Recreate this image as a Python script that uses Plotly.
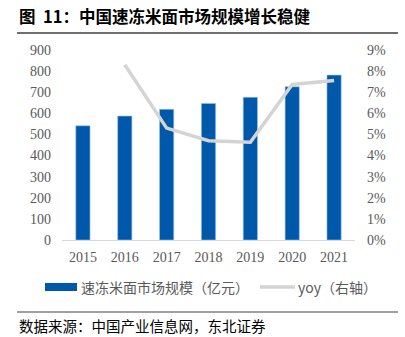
import plotly.graph_objects as go

years = ["2015", "2016", "2017", "2018", "2019", "2020", "2021"]
market = [541, 587, 619, 647, 676, 726, 781]
yoy_years = ["2016", "2017", "2018", "2019", "2020", "2021"]
yoy = [8.3, 5.3, 4.7, 4.63, 7.37, 7.55]
left_ticks = [0, 100, 200, 300, 400, 500, 600, 700, 800, 900]
right_ticks = [0, 1, 2, 3, 4, 5, 6, 7, 8, 9]

BLUE = "#0058AA"
GRAY = "#D4D4D4"
TXT = "#595959"
CJK = "Noto Sans CJK SC"
SERIF = "Liberation Serif"

fig = go.Figure()
fig.add_trace(go.Bar(x=years, y=market, name="速冻米面市场规模（亿元）",
                     marker=dict(color=BLUE, line=dict(color="#9DC3E6", width=0.6)),
                     width=0.34, showlegend=False))
fig.add_trace(go.Scatter(x=yoy_years, y=yoy, yaxis="y2", mode="lines",
                         line=dict(color=GRAY, width=3.5), name="yoy（右轴）",
                         showlegend=False))

W, H = 405, 337
ml, mr, mt, mb = 62, 50, 50, 97
pw, ph = W - ml - mr, H - mt - mb

def px(x):
    return (x - ml) / pw

def py(y):
    return (H - mb - y) / ph

fig.update_layout(
    width=W, height=H,
    margin=dict(l=ml, r=mr, t=mt, b=mb),
    paper_bgcolor="white", plot_bgcolor="white",
    bargap=0.5,
    xaxis=dict(type="category", showgrid=False, showline=True, linecolor="#D9D9D9",
               linewidth=1, ticks="", ticklabelstandoff=4,
               tickfont=dict(family=SERIF, size=14, color=TXT)),
    yaxis=dict(range=[0, 900], tickvals=left_ticks, showgrid=False, zeroline=False,
               ticks="", ticklabelstandoff=10,
               tickfont=dict(family=SERIF, size=14, color=TXT)),
    yaxis2=dict(range=[0, 9], tickvals=right_ticks, ticktext=[f"{v}%" for v in right_ticks],
                overlaying="y", side="right", showgrid=False, zeroline=False, ticks="",
                ticklabelstandoff=11,
                tickfont=dict(family=SERIF, size=14, color=TXT)),
    showlegend=False,
)

shapes = [
    dict(type="line", xref="paper", yref="paper", x0=px(17), x1=px(398), y0=py(33), y1=py(33),
         line=dict(color="#404040", width=1.3)),
    dict(type="line", xref="paper", yref="paper", x0=px(17), x1=px(398), y0=py(312), y1=py(312),
         line=dict(color="#808080", width=1.3)),
    dict(type="rect", xref="paper", yref="paper", x0=px(45), x1=px(77), y0=py(291), y1=py(283),
         fillcolor=BLUE, line=dict(width=0)),
    dict(type="line", xref="paper", yref="paper", x0=px(260), x1=px(295), y0=py(287), y1=py(287),
         line=dict(color=GRAY, width=3.5)),
]
annotations = [
    dict(text="<b>图  11：中国速冻米面市场规模增长稳健</b>", xref="paper", yref="paper",
         x=px(17), y=py(16), xanchor="left", yanchor="middle", showarrow=False,
         font=dict(family=CJK, size=16.5, color="#000000")),
    dict(text="速冻米面市场规模（亿元）", xref="paper", yref="paper",
         x=px(79), y=py(287), xanchor="left", yanchor="middle", showarrow=False,
         font=dict(family=CJK, size=14, color=TXT)),
    dict(text="yoy（右轴）", xref="paper", yref="paper",
         x=px(296), y=py(287), xanchor="left", yanchor="middle", showarrow=False,
         font=dict(family=CJK, size=14, color=TXT)),
    dict(text="数据来源：中国产业信息网，东北证券", xref="paper", yref="paper",
         x=px(17), y=py(325), xanchor="left", yanchor="middle", showarrow=False,
         font=dict(family=CJK, size=14.5, color="#000000")),
]
fig.update_layout(shapes=shapes, annotations=annotations)
fig.write_html("out.html")
